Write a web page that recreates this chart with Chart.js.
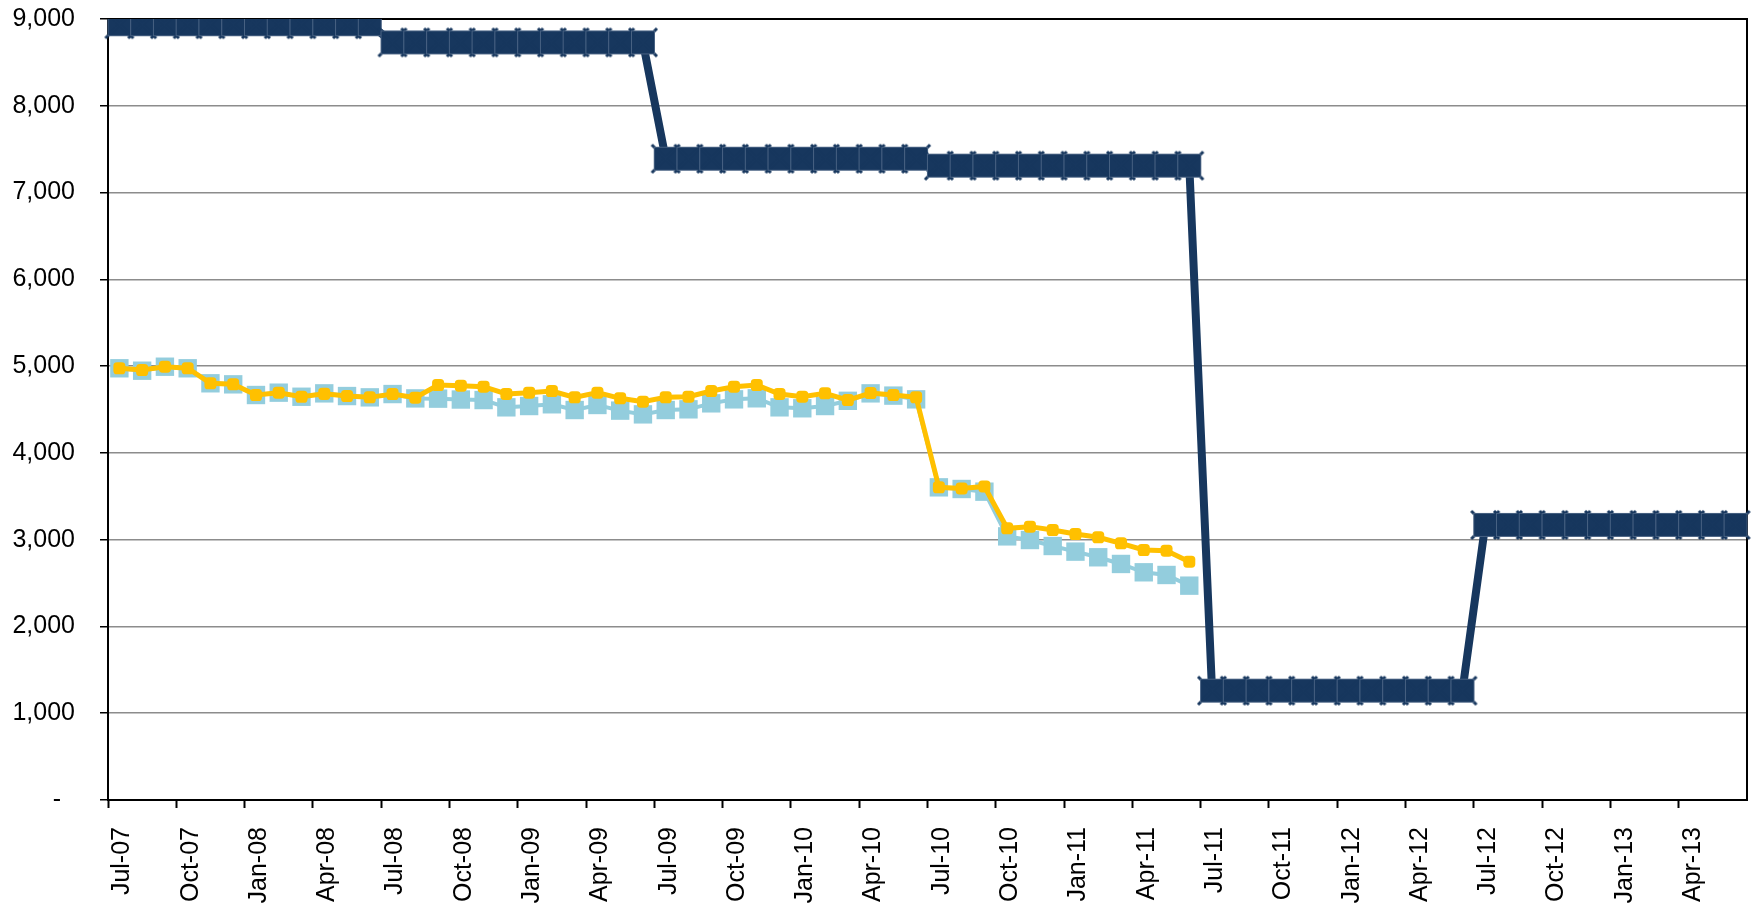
<!DOCTYPE html>
<html>
<head>
<meta charset="utf-8">
<title>Chart</title>
<script src="https://cdn.jsdelivr.net/npm/chart.js@4.4.1/dist/chart.umd.min.js"></script>
<style>
  html, body { margin: 0; padding: 0; background: #fff; }
  canvas { display: block; }
</style>
</head>
<body>
<canvas id="chart" width="1754" height="916"></canvas>
<script>
    // monthly categories, Jul-07 .. Jun-13
    var months = [
        'Jul-07', 'Aug-07', 'Sep-07', 'Oct-07', 'Nov-07', 'Dec-07', 'Jan-08', 'Feb-08', 'Mar-08', 'Apr-08', 'May-08', 'Jun-08',
        'Jul-08', 'Aug-08', 'Sep-08', 'Oct-08', 'Nov-08', 'Dec-08', 'Jan-09', 'Feb-09', 'Mar-09', 'Apr-09', 'May-09', 'Jun-09',
        'Jul-09', 'Aug-09', 'Sep-09', 'Oct-09', 'Nov-09', 'Dec-09', 'Jan-10', 'Feb-10', 'Mar-10', 'Apr-10', 'May-10', 'Jun-10',
        'Jul-10', 'Aug-10', 'Sep-10', 'Oct-10', 'Nov-10', 'Dec-10', 'Jan-11', 'Feb-11', 'Mar-11', 'Apr-11', 'May-11', 'Jun-11',
        'Jul-11', 'Aug-11', 'Sep-11', 'Oct-11', 'Nov-11', 'Dec-11', 'Jan-12', 'Feb-12', 'Mar-12', 'Apr-12', 'May-12', 'Jun-12',
        'Jul-12', 'Aug-12', 'Sep-12', 'Oct-12', 'Nov-12', 'Dec-12', 'Jan-13', 'Feb-13', 'Mar-13', 'Apr-13', 'May-13', 'Jun-13'
    ];

    // dark blue step series (one level per year)
    var stepSeries = [
        8940, 8940, 8940, 8940, 8940, 8940, 8940, 8940, 8940, 8940, 8940, 8940,
        8730, 8730, 8730, 8730, 8730, 8730, 8730, 8730, 8730, 8730, 8730, 8730,
        7390, 7390, 7390, 7390, 7390, 7390, 7390, 7390, 7390, 7390, 7390, 7390,
        7310, 7310, 7310, 7310, 7310, 7310, 7310, 7310, 7310, 7310, 7310, 7310,
        1260, 1260, 1260, 1260, 1260, 1260, 1260, 1260, 1260, 1260, 1260, 1260,
        3170, 3170, 3170, 3170, 3170, 3170, 3170, 3170, 3170, 3170, 3170, 3170
    ];

    // light blue squares, Jul-07 .. Jun-11
    var blueSeries = [
        4975, 4947, 4993, 4975, 4802, 4790, 4667, 4694, 4647, 4686, 4655, 4640,
        4678, 4628, 4625, 4615, 4609, 4525, 4540, 4560, 4494, 4552, 4487, 4444,
        4494, 4502, 4571, 4617, 4629, 4525, 4514, 4540, 4600, 4686, 4660, 4617,
        3603, 3584, 3553, 3038, 2996, 2927, 2862, 2797, 2720, 2624, 2593, 2470
    ];

    // yellow line, Jul-07 .. Jun-11
    var yellowSeries = [
        4975, 4955, 4993, 4975, 4802, 4790, 4667, 4694, 4647, 4680, 4655, 4640,
        4678, 4636, 4782, 4775, 4763, 4679, 4694, 4713, 4640, 4694, 4629, 4590,
        4640, 4648, 4713, 4763, 4782, 4679, 4648, 4686, 4609, 4690, 4667, 4640,
        3603, 3590, 3613, 3131, 3150, 3111, 3065, 3027, 2958, 2881, 2873, 2746
    ];

    var yTicks = [0, 1000, 2000, 3000, 4000, 5000, 6000, 7000, 8000, 9000];

    var fontFamily = "'Liberation Sans', Arial, Helvetica, sans-serif";

    // star-ish square marker for the dark series (square with small corner points)
    var starMarker = (function () {
        var size = 32;
        var cv = document.createElement('canvas');
        cv.width = size;
        cv.height = size;
        var c = cv.getContext('2d');
        c.fillStyle = '#17375E';
        c.fillRect(4, 4, 24, 24);
        c.strokeStyle = '#17375E';
        c.lineWidth = 3;
        c.beginPath();
        c.moveTo(2, 2); c.lineTo(30, 30);
        c.moveTo(30, 2); c.lineTo(2, 30);
        c.stroke();
        c.strokeStyle = 'rgba(120,140,165,0.5)';
        c.lineWidth = 1;
        c.strokeRect(4.5, 4.5, 23, 23);
        return cv;
    })();

    // black box on top and right of the plot, under the lines
    var plotFrame = {
        id: 'plotFrame',
        beforeDatasetsDraw: function (chart) {
            var a = chart.chartArea;
            var c = chart.ctx;
            c.save();
            c.strokeStyle = '#000';
            c.lineWidth = 2;
            c.beginPath();
            c.moveTo(a.left, a.top);
            c.lineTo(a.right, a.top);
            c.lineTo(a.right, a.bottom);
            c.stroke();
            c.restore();
        }
    };

    new Chart(document.getElementById('chart'), {
        type: 'line',
        data: {
            labels: months,
            datasets: [
                {
                    label: 'Series C',
                    data: yellowSeries,
                    borderColor: '#FFC000',
                    backgroundColor: '#FFC000',
                    borderWidth: 5,
                    pointStyle: 'rectRounded',
                    pointRadius: 7,
                    pointBorderWidth: 0,
                    tension: 0,
                    order: 0
                },
                {
                    label: 'Series A',
                    data: stepSeries,
                    borderColor: '#17375E',
                    backgroundColor: '#17375E',
                    borderWidth: 8,
                    pointStyle: starMarker,
                    pointRadius: 16,
                    tension: 0,
                    order: 1
                },
                {
                    label: 'Series B',
                    data: blueSeries,
                    borderColor: '#93CDDD',
                    backgroundColor: '#93CDDD',
                    borderWidth: 4,
                    pointStyle: 'rect',
                    pointRadius: 13,
                    pointBorderWidth: 0,
                    tension: 0,
                    order: 2
                }
            ]
        },
        options: {
            responsive: false,
            animation: false,
            devicePixelRatio: 1,
            layout: { autoPadding: false, padding: { top: 19, right: 7, left: 0, bottom: 0 } },
            plugins: {
                legend: { display: false },
                tooltip: { enabled: false }
            },
            scales: {
                x: {
                    offset: true,
                    grid: {
                        offset: true,
                        drawOnChartArea: false,
                        drawTicks: true,
                        tickLength: 8,
                        tickWidth: 2,
                        tickColor: function (ctx) {
                            return ctx.index % 3 === 0 ? '#000' : 'rgba(0,0,0,0)';
                        }
                    },
                    border: { display: true, color: '#000', width: 2 },
                    ticks: {
                        autoSkip: false,
                        maxRotation: 90,
                        minRotation: 90,
                        padding: 19,
                        labelOffset: 3,
                        color: '#000',
                        font: { family: fontFamily, size: 25 },
                        callback: function (value, index) {
                            return index % 3 === 0 ? months[index] : '';
                        }
                    },
                    afterFit: function (scale) {
                        scale.height = 116;
                        scale.paddingLeft = 0;
                        scale.paddingRight = 0;
                    }
                },
                y: {
                    min: yTicks[0],
                    max: yTicks[yTicks.length - 1],
                    afterBuildTicks: function (scale) {
                        scale.ticks = yTicks.map(v => ({ value: v }));
                    },
                    grid: {
                        color: '#8c8c8c',
                        lineWidth: 1.5,
                        tickColor: '#000',
                        tickLength: 8,
                        tickWidth: 1.5
                    },
                    border: { display: true, color: '#000', width: 2 },
                    ticks: {
                        padding: 25,
                        color: '#000',
                        font: { family: fontFamily, size: 25 },
                        callback: function (value) {
                            return value === 0 ? '-  ' : value.toLocaleString('en-US');
                        }
                    },
                    afterFit: function (scale) {
                        scale.width = 108;
                        scale.paddingTop = 0;
                        scale.paddingBottom = 0;
                    }
                }
            }
        },
        plugins: [plotFrame]
    });
</script>
</body>
</html>
